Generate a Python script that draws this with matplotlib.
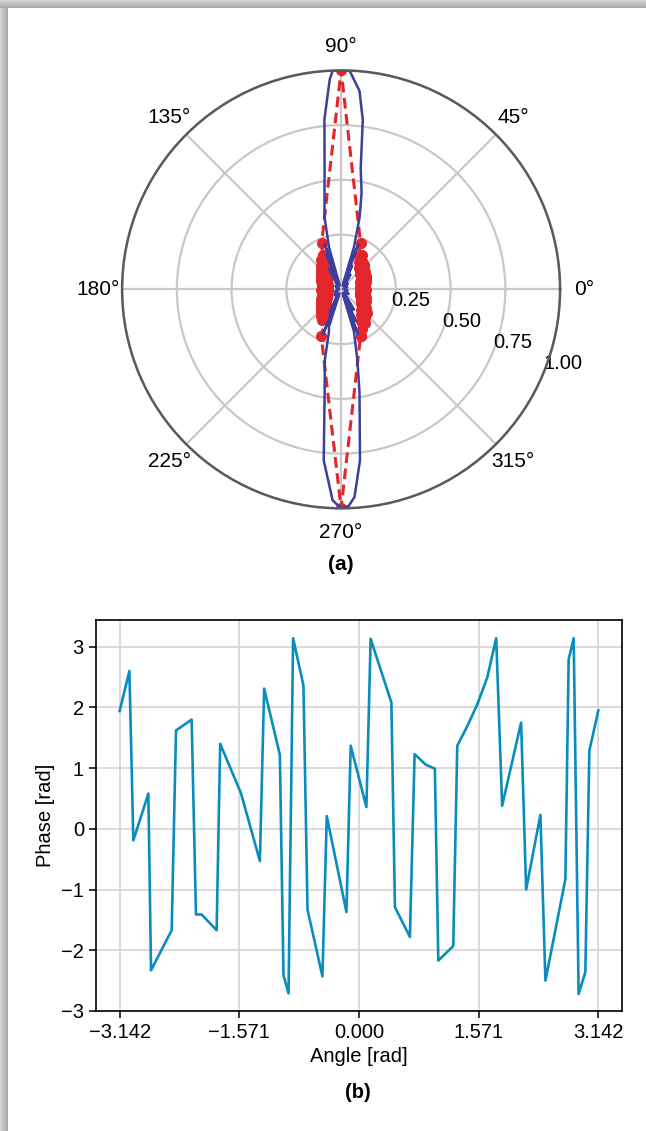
import numpy as np
import matplotlib
matplotlib.use('Agg')
from matplotlib import pyplot as plt

plt.rcParams['font.family'] = ['Liberation Sans', 'DejaVu Sans']
plt.rcParams['axes.unicode_minus'] = True

# radiation pattern, blue solid (angle in degrees, normalised magnitude)
blue_deg = [0, 10, 20, 30, 40, 50, 58, 62, 65, 67, 69, 71, 73, 75.6, 78, 80.8,
            82.7, 84.7, 87.8, 90, 92.2, 93.1, 95.6, 97.8, 102.9, 106, 108,
            110, 111.5, 113, 116, 120, 130, 140, 150, 160, 170, 180, 190, 200,
            210, 220, 230, 240, 244, 246, 248, 250, 252, 254, 257, 261, 264.2,
            267.7, 270, 272, 273.7, 276.3, 280.1, 283, 287, 289, 290.5, 292,
            295, 298, 302, 310, 320, 330, 340, 350, 360]
blue_r = [0.02, 0.01, 0.03, 0.02, 0.04, 0.03, 0.08, 0.02, 0.12, 0.02, 0.22,
          0.03, 0.2, 0.34, 0.45, 0.56, 0.78, 0.91, 1.0, 1.0, 1.0, 0.96, 0.78,
          0.555, 0.34, 0.2, 0.03, 0.22, 0.02, 0.17, 0.02, 0.11, 0.03, 0.02,
          0.03, 0.01, 0.02, 0.01, 0.02, 0.03, 0.02, 0.04, 0.03, 0.05, 0.12,
          0.02, 0.22, 0.03, 0.18, 0.2, 0.33, 0.48, 0.785, 0.964, 1.0, 0.99,
          0.95, 0.786, 0.48, 0.33, 0.2, 0.03, 0.22, 0.02, 0.16, 0.02, 0.11,
          0.03, 0.02, 0.04, 0.02, 0.03, 0.02]

# sampled pattern, red dashed with markers
red_deg = [-67.5, -62, -58, -55, -52, -49, -46, -43, -40, -37, -34, -31, -28,
           -25, -22, -19, -16, -13, -10, -7, -4, -1, 2, 5, 8, 11, 14, 17, 20,
           23, 26, 29, 32, 35, 38, 41, 44, 47, 50, 53, 56, 59, 62, 67, 90,
           113, 118, 121, 124, 127, 130, 133, 136, 139, 142, 146, 150, 154,
           158, 162, 166, 170, 174, 178, 182, 186, 190, 194, 198, 202, 206,
           210, 214, 218, 221, 224, 227, 230, 233, 236, 239, 242, 247, 270,
           292.5]
red_r = [0.232, 0.205, 0.17, 0.19, 0.15, 0.165, 0.13, 0.16, 0.125, 0.14, 0.11,
         0.13, 0.105, 0.125, 0.097, 0.118, 0.092, 0.112, 0.09, 0.106, 0.088,
         0.115, 0.09, 0.108, 0.086, 0.112, 0.094, 0.118, 0.092, 0.125, 0.1,
         0.128, 0.105, 0.135, 0.112, 0.14, 0.118, 0.155, 0.13, 0.16, 0.15,
         0.185, 0.17, 0.228, 1.0, 0.228, 0.18, 0.15, 0.16, 0.115, 0.14, 0.1,
         0.13, 0.085, 0.115, 0.075, 0.105, 0.07, 0.098, 0.065, 0.092, 0.06,
         0.088, 0.065, 0.09, 0.06, 0.085, 0.065, 0.092, 0.07, 0.1, 0.075,
         0.11, 0.085, 0.12, 0.095, 0.135, 0.11, 0.15, 0.12, 0.165, 0.15,
         0.232, 1.0, 0.232]

# phase of the pattern
phase_x = [-3.142, -3.014, -2.962, -2.765, -2.730, -2.459, -2.402, -2.197,
           -2.140, -2.066, -1.869, -1.822, -1.550, -1.301, -1.245, -1.039,
           -0.991, -0.925, -0.865, -0.729, -0.676, -0.480, -0.423, -0.165,
           -0.109, 0.097, 0.153, 0.425, 0.472, 0.668, 0.730, 0.874, 0.996,
           1.041, 1.237, 1.290, 1.421, 1.552, 1.683, 1.801, 1.879, 2.128,
           2.194, 2.381, 2.447, 2.709, 2.752, 2.818, 2.883, 2.971, 3.024, 3.142]
phase_y = [1.94, 2.60, -0.19, 0.58, -2.33, -1.67, 1.62, 1.80, -1.41, -1.41,
           -1.67, 1.40, 0.59, -0.53, 2.31, 1.22, -2.41, -2.71, 3.14, 2.36,
           -1.33, -2.43, 0.21, -1.37, 1.37, 0.36, 3.13, 2.08, -1.29, -1.78,
           1.23, 1.06, 0.99, -2.17, -1.93, 1.37, 1.69, 2.05, 2.49, 3.14, 0.38,
           1.75, -1.00, 0.23, -2.50, -0.83, 2.79, 3.14, -2.72, -2.36, 1.29, 1.95]

W, H = 646, 1131
fig = plt.figure(figsize=(W / 100, H / 100), dpi=100)

# grey page edge along the top and left
bg = fig.add_axes([0, 0, 1, 1], zorder=-5)
bg.set_xlim(0, W)
bg.set_ylim(H, 0)
bg.axis('off')
edge = np.linspace(0.84, 0.66, 16)
bg.imshow(edge[np.newaxis, :], cmap='gray', vmin=0, vmax=1, aspect='auto',
          extent=[0, 8, H, 0])
bg.imshow(edge[:, np.newaxis], cmap='gray', vmin=0, vmax=1, aspect='auto',
          extent=[0, W, 8, 0])

# (a) polar pattern
ax = fig.add_axes([0.189, 0.5505, 0.678, 0.3873], projection='polar')
ax.plot(np.deg2rad(red_deg), red_r, color='#e3262c', ls=(0, (3.5, 1.8)),
        lw=2.2, marker='o', ms=7, mec='#e3262c', mfc='#e3262c')
ax.plot(np.deg2rad(blue_deg), blue_r, color='#3b3f9e', lw=1.8)
ax.set_ylim(0, 1)
ax.set_rticks([0.25, 0.5, 0.75, 1.0])
ax.set_yticklabels(['0.25', '0.50', '0.75', '1.00'], fontsize=14.5)
ax.set_rlabel_position(-22.5)
ax.set_thetagrids(range(0, 360, 45),
                  labels=['%d°' % a for a in range(0, 360, 45)], fontsize=15)
ax.tick_params(axis='x', pad=7)
ax.grid(color='#cdc6c6', lw=1.6)
ax.spines['polar'].set_color('#5a5a5a')
ax.spines['polar'].set_linewidth(1.8)
fig.text(341 / W, 1 - 565 / H, '(a)', ha='center', va='center',
         fontsize=15, fontweight='bold')

# (b) phase versus angle
ax2 = fig.add_axes([95.7 / W, 120 / H, (622.3 - 95.7) / W, (1011 - 620) / H])
ax2.plot(phase_x, phase_y, color='#0a8dbe', lw=1.9)
ax2.set_xticks([-np.pi, -np.pi / 2, 0, np.pi / 2, np.pi])
ax2.set_xticklabels(['\u22123.142', '\u22121.571', '0.000', '1.571', '3.142'])
ax2.set_yticks(range(-3, 4))
ax2.set_ylim(-3.0, 3.44)
ax2.tick_params(labelsize=14.5, length=5, width=1.1)
ax2.grid(color='#d4d4d4', lw=1.2)
ax2.set_axisbelow(True)
ax2.set_xlabel('Angle [rad]', fontsize=14.5)
ax2.set_ylabel('Phase [rad]', fontsize=14.5)
for s in ax2.spines.values():
    s.set_linewidth(1.2)
fig.text(358 / W, 1 - 1093 / H, '(b)', ha='center', va='center',
         fontsize=14.5, fontweight='bold')

fig.savefig('out.png', dpi=100)
